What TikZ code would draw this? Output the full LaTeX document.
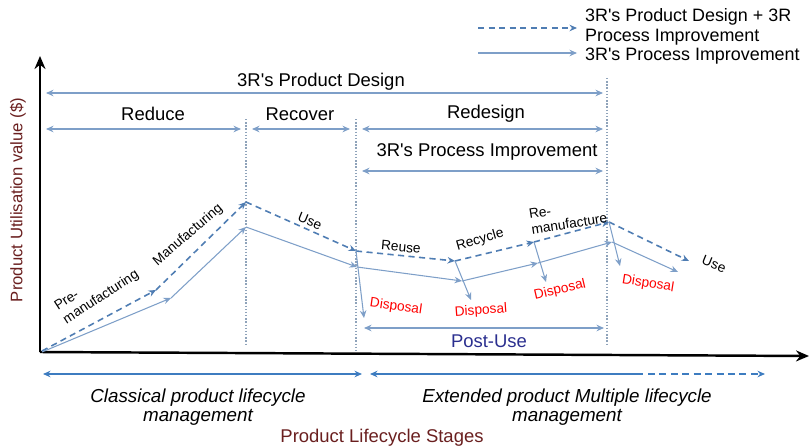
\documentclass[tikz,border=0pt]{standalone}
\usepackage{fontspec}
\setmainfont{Liberation Sans}
\definecolor{acc}{HTML}{7E9FC8}
\definecolor{acc2}{HTML}{4F7DB3}
\definecolor{acc3}{HTML}{3D7CC0}
\definecolor{mute}{HTML}{8FA3BA}
\definecolor{axlab}{HTML}{6A1F1F}
\definecolor{post}{HTML}{2B2F8F}
\usetikzlibrary{arrows.meta,positioning,calc}
\newcommand{\ap}{\textquotesingle}
\tikzset{
  >={Stealth[length=1.5mm,width=1.3mm]},
  arr/.style={->,draw=acc,line width=0.6pt},
  darr/.style={->,draw=acc2,line width=0.9pt,dash pattern=on 3.5pt off 2.5pt},
  span/.style={<->,draw=acc,line width=0.6pt},
  bspan/.style={draw=acc3,line width=1.2pt},
  vline/.style={draw=mute,line width=0.8pt,densely dotted},
  axis/.style={-{Stealth[length=2.6mm,width=2.2mm]},line width=1.4pt,black},
  hd/.style={font=\fontsize{10.5}{12}\selectfont,inner sep=1pt},
  lab/.style={font=\fontsize{7.8}{9}\selectfont,inner sep=1pt,align=center},
  dlab/.style={lab,text=red},
  itl/.style={font=\fontsize{10.7}{11.2}\selectfont\itshape,align=center},
}
\begin{document}
\begin{tikzpicture}[x=0.02cm,y=-0.02cm]
\useasboundingbox (0,0) rectangle (810,446);
% axes
\coordinate (o) at (40,352);
\coordinate (ytop) at (40,56);
\coordinate (xend) at (809,356);
\draw[axis] (o) -- (ytop);
\draw[axis] (o) -- (xend);
\node[hd,rotate=90,text=axlab,font=\fontsize{9.5}{11}\selectfont] (ylab) at (18,200) {Product Utilisation value (\$)};
\node[hd,text=axlab] (xlab) at (382,438) {Product Lifecycle Stages};
% stage separators
\coordinate (v1t) at (246,119); \coordinate (v1b) at (246,346);
\coordinate (v2t) at (356,119); \coordinate (v2b) at (356,350);
\coordinate (v3t) at (607,78);  \coordinate (v3b) at (607,346);
\draw[vline] (v1t) -- (v1b);
\draw[vline] (v2t) -- (v2b);
\draw[vline] (v3t) -- (v3b);
% legend
\coordinate (lg1a) at (478,28); \coordinate (lg1b) at (577,28);
\coordinate (lg2a) at (478,53); \coordinate (lg2b) at (577,53);
\draw[darr] (lg1a) -- (lg1b);
\draw[arr] (lg2a) -- (lg2b);
\node[hd,anchor=west,align=left,font=\fontsize{10.2}{11.4}\selectfont] (lgt1) at (583,27) {3R\ap s Product Design + 3R\\Process Improvement};
\node[hd,anchor=west,font=\fontsize{10.2}{11}\selectfont] (lgt2) at (583,56) {3R\ap s Process Improvement};
% top spans
\node[hd] (pd) at (321,82) {3R\ap s Product Design};
\coordinate (pda) at (46,93); \coordinate (pdb) at (603,93);
\draw[span] (pda) -- (pdb);
\node[hd] (red) at (153,114) {Reduce};
\node[hd] (rec) at (300,114) {Recover};
\node[hd] (rds) at (486,114) {Redesign};
\coordinate (ra) at (46,129);  \coordinate (rb) at (241,129);
\coordinate (ca) at (252,129); \coordinate (cb) at (350,129);
\coordinate (da) at (362,129); \coordinate (db) at (603,129);
\draw[span] (ra) -- (rb);
\draw[span] (ca) -- (cb);
\draw[span] (da) -- (db);
\node[hd] (pi) at (487,152) {3R\ap s Process Improvement};
\coordinate (pia) at (362,171); \coordinate (pib) at (603,171);
\draw[span] (pia) -- (pib);
% dashed lifecycle (design + process)
\coordinate (d0) at (42,351);
\coordinate (d1) at (156,290);
\coordinate (d2) at (246,202);
\coordinate (d3) at (356,251);
\coordinate (d4) at (455,261);
\coordinate (d5) at (534,242);
\coordinate (d6) at (609,222);
\coordinate (d7) at (689,261);
\draw[darr] (d0) -- (d1);
\draw[darr] (d1) -- (d2);
\draw[darr] (d2) -- (d3);
\draw[darr] (d3) -- (d4);
\draw[darr] (d4) -- (d5);
\draw[darr] (d5) -- (d6);
\draw[darr] (d6) -- (d7);
% solid lifecycle (process only)
\coordinate (s0) at (42,352);
\coordinate (s1) at (171,298);
\coordinate (s2) at (246,227);
\coordinate (s3) at (357,267);
\coordinate (s4) at (462,281);
\coordinate (s5) at (538,263);
\coordinate (s6) at (612,242);
\coordinate (s7) at (678,272);
\draw[arr] (s0) -- (s1);
\draw[arr] (s1) -- (s2);
\draw[arr] (s2) -- (s3);
\draw[arr] (s3) -- (s4);
\draw[arr] (s4) -- (s5);
\draw[arr] (s5) -- (s6);
\draw[arr] (s6) -- (s7);
% disposal
\coordinate (x1) at (364,318);
\coordinate (x2) at (471,300);
\coordinate (x3) at (546,282);
\coordinate (x4) at (620,266);
\draw[arr] (d3) -- (x1);
\draw[arr] (d4) -- (x2);
\draw[arr] (d5) -- (x3);
\draw[arr] (d6) -- (x4);
\node[dlab,rotate=-8] (dp1) at (396,307) {Disposal};
\node[dlab,rotate=4] (dp2) at (481,311) {Disposal};
\node[dlab,rotate=13] (dp3) at (560,290) {Disposal};
\node[dlab,rotate=-9] (dp4) at (648,284) {Disposal};
% stage labels
\node[lab,rotate=33,align=left] (pre) at (97,291) {Pre-\\manufacturing};
\node[lab,rotate=41] (man) at (188,235) {Manufacturing};
\node[lab,rotate=-22] (use1) at (310,221) {Use};
\node[lab,rotate=-5] (reu) at (401,247) {Reuse};
\node[lab,rotate=16] (rcy) at (480,240) {Recycle};
\node[lab,rotate=9,align=left] (rem) at (568,216) {Re-\\manufacture};
\node[lab,rotate=-22] (use2) at (714,264) {Use};
% post-use
\coordinate (pua) at (364,328); \coordinate (pub) at (604,328);
\draw[span] (pua) -- (pub);
\node[hd,text=post] (pu) at (489,341) {Post-Use};
% lifecycle management spans
\coordinate (ba) at (43,374);  \coordinate (bb) at (362,374);
\coordinate (bc) at (370,374); \coordinate (bd) at (643,374);
\coordinate (bs) at (648,374); \coordinate (be) at (765,374);
\draw[bspan,<->] (ba) -- (bb);
\draw[bspan,<-] (bc) -- (bd);
\draw[bspan,->,line width=1pt,dash pattern=on 4pt off 2.5pt] (bs) -- (be);
\node[itl] (cpl) at (198,407) {Classical product lifecycle\\management};
\node[itl] (epl) at (567,407) {Extended product Multiple lifecycle\\management};
\end{tikzpicture}
\end{document}
